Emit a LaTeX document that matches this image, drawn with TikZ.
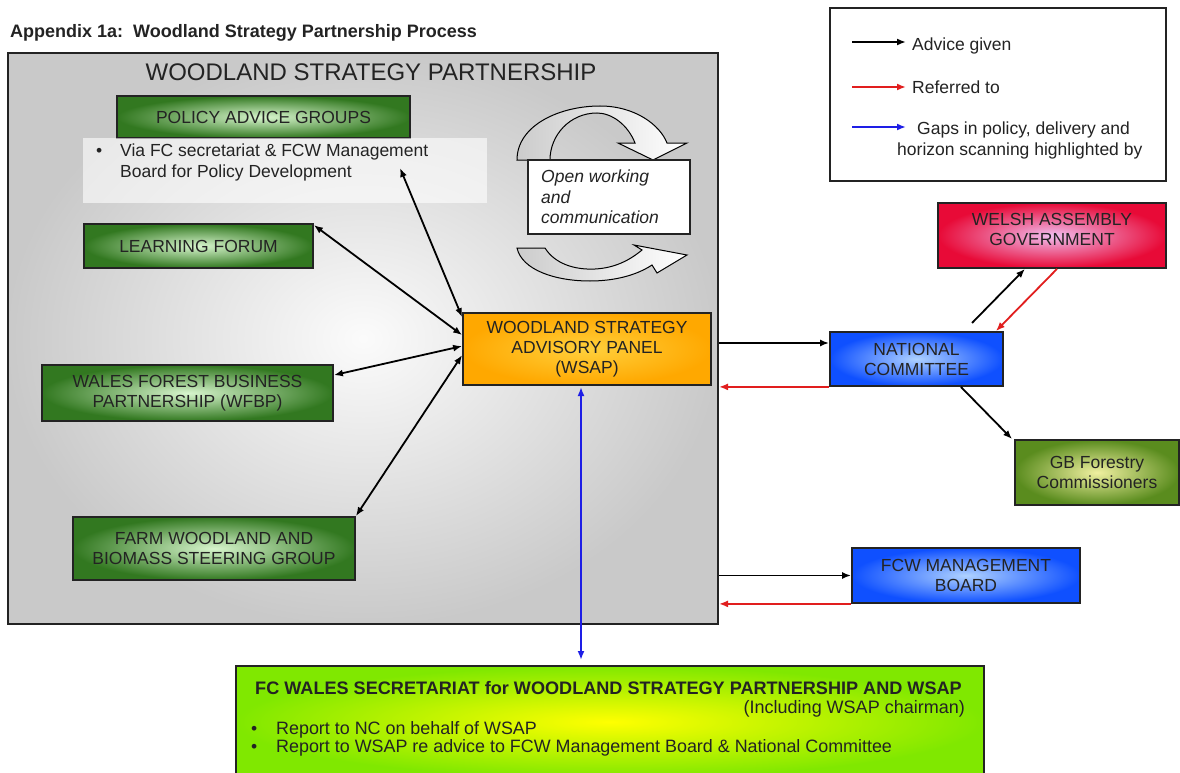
\documentclass[tikz,border=0pt]{standalone}
\usepackage{fontspec}
\setmainfont{Liberation Sans}
\usetikzlibrary{arrows.meta}
\definecolor{greenout}{RGB}{50,120,32}
\definecolor{greenin}{RGB}{215,245,205}
\definecolor{orout}{RGB}{255,168,0}
\definecolor{orin}{RGB}{255,208,60}
\definecolor{redout}{RGB}{232,10,55}
\definecolor{redin}{RGB}{240,190,240}
\definecolor{blueout}{RGB}{15,80,255}
\definecolor{bluein}{RGB}{175,210,255}
\definecolor{olout}{RGB}{90,140,30}
\definecolor{olin}{RGB}{240,240,160}
\definecolor{limeout}{RGB}{128,232,0}
\definecolor{limein}{RGB}{255,255,0}
\definecolor{refred}{RGB}{225,30,30}
\definecolor{gapblue}{RGB}{30,30,230}
\definecolor{ink}{RGB}{35,35,35}
\begin{document}
\begin{tikzpicture}[x=1pt,y=-1pt,
  font=\fontsize{17.5}{20}\selectfont,
  box/.style={draw=ink, line width=1.8pt, inner sep=0pt, align=center, text=ink},
  gbox/.style={box, inner color=greenin, outer color=greenout},
  adv/.style={draw=black, line width=1.8pt, -{Latex[length=9pt,width=7pt]}},
  both/.style={draw=black, line width=1.8pt, {Latex[length=9pt,width=7pt]}-{Latex[length=9pt,width=7pt]}},
  refer/.style={draw=refred, line width=1.8pt, -{Latex[length=9pt,width=7pt]}},
  gap/.style={draw=gapblue, line width=1.8pt, {Latex[length=9pt,width=7pt]}-{Latex[length=9pt,width=7pt]}},
  lbl/.style={inner sep=0pt, text=ink, anchor=base west},
  ctext/.style={inner sep=0pt, text=ink, align=center},
  curv/.style={draw=black, line width=1pt, left color=gray!40, right color=white}
]
\useasboundingbox[fill=white] (0,0) rectangle (1180,773);

% title
\node[lbl, font=\fontsize{18}{20}\selectfont\bfseries] (apptitle) at (10,38) {Appendix 1a:\ \ Woodland Strategy Partnership Process};

% main partnership box
\node[draw=ink, line width=2pt, minimum width=710, minimum height=571, inner sep=0pt,
      inner color=white!97!gray, outer color=gray!42] (main) at (363,338.5) {};
\node[inner sep=0pt, text=ink, anchor=base, font=\fontsize{24}{28}\selectfont] (wsptitle) at (371,81) {WOODLAND STRATEGY PARTNERSHIP};

% policy advice groups
\node[gbox, minimum width=293, minimum height=42] (pag) at (263.5,117) {POLICY ADVICE GROUPS};
\node[fill=white, opacity=0.6, minimum width=404, minimum height=65, inner sep=0pt] (polnote) at (285,170.5) {};
\node[lbl] (polb) at (96,157) {•};
\node[lbl] (pol1) at (120,157) {Via FC secretariat \& FCW Management};
\node[lbl] (pol2) at (120,177) {Board for Policy Development};
\coordinate (polend) at (400,168);

% open working
\path[curv] (517,160) .. controls (517,125) and (560,106) .. (600,106)
  .. controls (635,106) and (660,125) .. (667,143) -- (687,143) -- (653,160) -- (618,143) -- (635,143)
  .. controls (628,125) and (612,113) .. (597,113) .. controls (570,113) and (550,135) .. (550,160) -- cycle;
\path[curv] (517,248) -- (545,248) .. controls (555,264) and (575,270) .. (595,269)
  .. controls (615,268) and (630,260) .. (642,250) -- (634,245) -- (687,255) -- (657,273) -- (652,265)
  .. controls (637,275) and (615,281) .. (590,281) .. controls (555,281) and (522,270) .. (517,248) -- cycle;
\node[box, line width=1.3pt, fill=white, minimum width=162, minimum height=74] (owc) at (609,197) {};
\node[inner sep=0pt, anchor=west, align=left, text=ink, font=\fontsize{17.5}{20.5}\selectfont\itshape] (owctext) at (541,197) {Open working\\and\\communication};

% other boxes
\node[gbox, minimum width=229, minimum height=44] (lf) at (198.5,246) {LEARNING FORUM};
\node[gbox, minimum width=291, minimum height=56] (wfbp) at (187.5,393) {WALES FOREST BUSINESS\\PARTNERSHIP (WFBP)};
\node[gbox, minimum width=282, minimum height=63] (farm) at (214,548.5) {FARM WOODLAND AND\\BIOMASS STEERING GROUP};
\node[box, inner color=orin, outer color=orout, minimum width=248, minimum height=72] (wsap) at (587,349) {WOODLAND STRATEGY\\ADVISORY PANEL\\(WSAP)};

\node[box, inner color=redin, outer color=redout, minimum width=228, minimum height=65] (wag) at (1052,235.5) {};
\node[ctext] (wagt) at (1052,229) {WELSH ASSEMBLY\\GOVERNMENT};
\node[box, inner color=bluein, outer color=blueout, minimum width=173, minimum height=54] (nc) at (916.5,359) {NATIONAL\\COMMITTEE};
\node[box, inner color=olin, outer color=olout, minimum width=164, minimum height=65] (gb) at (1097,472.5) {GB Forestry\\Commissioners};
\node[box, inner color=bluein, outer color=blueout, minimum width=228, minimum height=55] (fcw) at (966,575.5) {FCW MANAGEMENT\\BOARD};

% secretariat
\node[box, inner color=limein, outer color=limeout, minimum width=748, minimum height=112, anchor=north west] (sec) at (235,665) {};
\node[lbl, font=\fontsize{18.1}{20}\selectfont\bfseries] (sec1) at (255,694) {FC WALES SECRETARIAT for WOODLAND STRATEGY PARTNERSHIP AND WSAP};
\node[inner sep=0pt, text=ink, anchor=base east, font=\fontsize{18}{20}\selectfont] (sec2) at (965,713) {(Including WSAP chairman)};
\node[lbl] (secb1) at (251,734) {•};
\node[lbl, font=\fontsize{17.9}{20}\selectfont] (sect1) at (276,734) {Report to NC on behalf of WSAP};
\node[lbl] (secb2) at (251,752) {•};
\node[lbl, font=\fontsize{17.9}{20}\selectfont] (sect2) at (276,752) {Report to WSAP re advice to FCW Management Board \& National Committee};

% legend
\node[draw=ink, line width=1.8pt, fill=white, minimum width=336, minimum height=173, inner sep=0pt] (legend) at (998,94.5) {};
\coordinate (la1) at (852,42); \coordinate (la2) at (906,42);
\coordinate (lr1) at (852,87); \coordinate (lr2) at (906,87);
\coordinate (lb1) at (852,127); \coordinate (lb2) at (906,127);
\draw[adv] (la1) -- (la2);
\draw[refer] (lr1) -- (lr2);
\draw[draw=gapblue, line width=1.8pt, -{Latex[length=9pt,width=7pt]}] (lb1) -- (lb2);
\node[lbl] (lt1) at (912,51) {Advice given};
\node[lbl] (lt2) at (912,94) {Referred to};
\node[lbl] (lt3) at (917,135) {Gaps in policy, delivery and};
\node[lbl] (lt4) at (897,155) {horizon scanning highlighted by};

% connectors inside partnership
\draw[both] (polend) -- ([yshift=-5pt]wsap.north west);
\draw[both] ([yshift=-2pt]lf.north east) -- ([yshift=-23pt]wsap.north west);
\draw[both] ([yshift=-11pt]wfbp.north east) -- ([yshift=-34pt]wsap.north west);
\draw[both] (farm.north east) -- ([yshift=-43pt]wsap.north west);
\coordinate (gapt) at (581,387);
\coordinate (gapb) at (581,660);
\draw[gap] (gapt) -- (gapb);

% connectors outside
\draw[adv] ([yshift=16pt]nc.west -| main.east) -- ([yshift=16pt]nc.west);
\draw[refer] (nc.south west) -- (nc.south west -| main.east);
\coordinate (ncup) at (972,323);
\draw[adv] (ncup) -- ([xshift=-27pt]wag.south);
\draw[refer] ([xshift=5pt]wag.south) -- ([xshift=-8pt]nc.north east);
\draw[adv] ([xshift=-43pt]nc.south east) -- ([xshift=-2pt]gb.north west);
\draw[adv] (fcw.west -| main.east) -- (fcw.west);
\draw[refer] (fcw.south west) -- (fcw.south west -| main.east);
\end{tikzpicture}
\end{document}
